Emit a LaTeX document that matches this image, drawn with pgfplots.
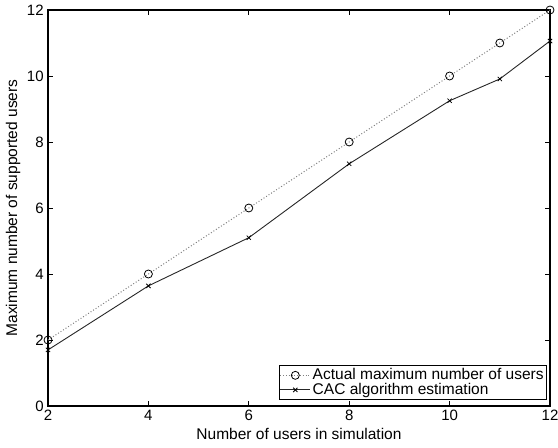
\documentclass[border=0pt]{standalone}
\usepackage{fontspec}
\setmainfont{Liberation Sans}
\usepackage{pgfplots}
\pgfplotsset{compat=1.18}
\begin{document}
\fontsize{15.5}{17}\selectfont
\begin{tikzpicture}
\begin{axis}[
  scale only axis,
  width=502pt, height=396pt,
  xmin=2, xmax=12, ymin=0, ymax=12,
  xtick={2,4,6,8,10,12},
  ytick={0,2,4,6,8,10,12},
  /pgf/number format/assume math mode=true,
  tick label style={font=\fontsize{15}{17}\selectfont},
  label style={font=\fontsize{15.5}{17}\selectfont},
  tick align=inside,
  major tick length=5pt,
  tick style={black, line width=0.8pt},
  axis line style={black, line width=1.3pt},
  xlabel={Number of users in simulation},
  ylabel={Maximum number of supported users},
  xlabel style={yshift=3pt},
  ylabel style={yshift=-4pt},
  xticklabel style={yshift=1pt},
  yticklabel style={xshift=1pt},
  clip=false,
  legend cell align=left,
  legend style={at={(rel axis cs:0.994,0.015)}, anchor=south east,
    draw=black, line width=0.8pt, fill=white,
    font=\fontsize{15.5}{17}\selectfont,
    inner sep=1pt, row sep=-3pt,
    nodes={inner sep=2pt}},
  legend image code/.code={%
    \draw[mark repeat=2,mark phase=2,#1] plot coordinates {(0pt,0pt) (15pt,0pt) (30pt,0pt)};},
  legend image post style={line width=0.8pt},
]
\addplot[black!50, dotted, line width=1pt, mark=o, mark size=4pt,
  mark options={solid, black, line width=0.8pt}]
  coordinates {(2,2) (4,4) (6,6) (8,8) (10,10) (11,11) (12,12)};
\addlegendentry{Actual maximum number of users}
\addplot[black!85, solid, line width=0.9pt, mark=x, mark size=3pt,
  mark options={black, line width=0.8pt}]
  coordinates {(2,1.70) (4,3.64) (6,5.10) (8,7.34) (10,9.25) (11,9.91) (12,11.06)};
\addlegendentry{CAC algorithm estimation}
\coordinate (ll) at (rel axis cs:0,0);
\coordinate (ur) at (rel axis cs:1,1);
\end{axis}
\pgfresetboundingbox
\path (ll) ++(-48pt,-41pt) coordinate (bl);
\path (ur) ++(8pt,10pt) coordinate (tr);
\path[use as bounding box] (bl) rectangle (tr);
\end{tikzpicture}
\end{document}
